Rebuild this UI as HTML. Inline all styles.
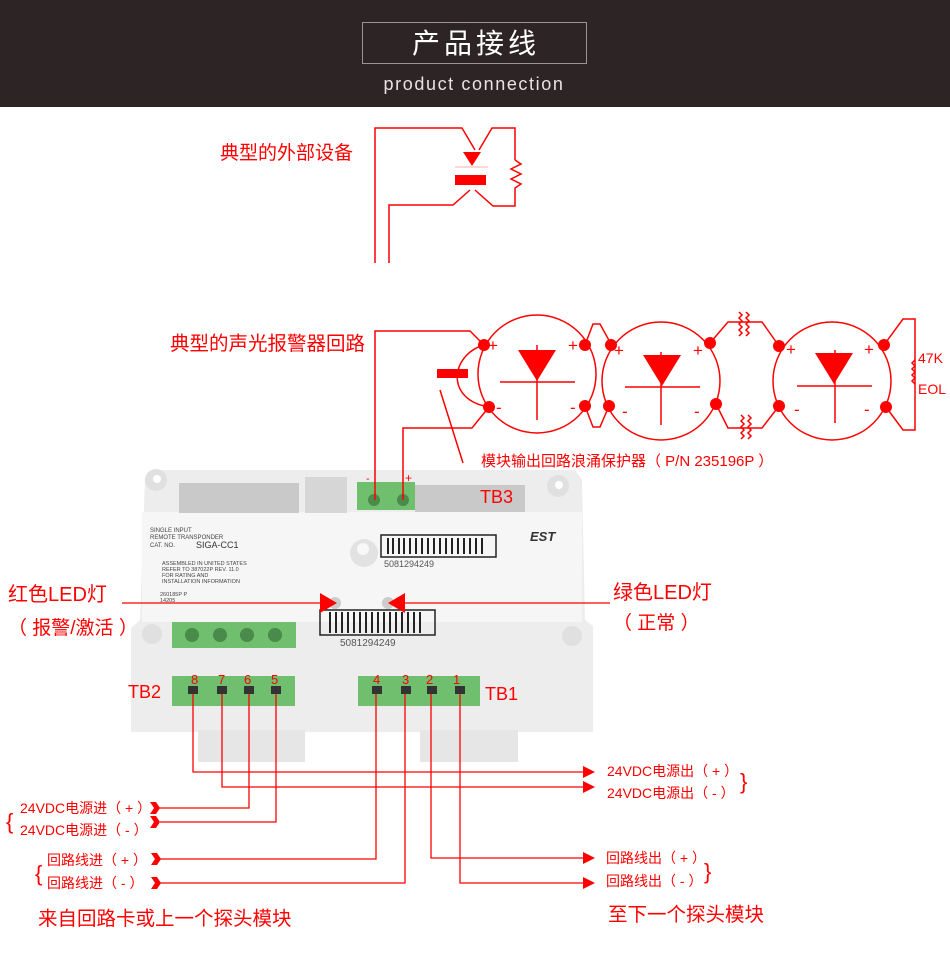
<!DOCTYPE html>
<html><head><meta charset="utf-8"><style>
html,body{margin:0;padding:0;background:#fff;}
svg{display:block;}
text{font-family:"Liberation Sans","Noto Sans CJK SC",sans-serif;}
</style></head><body>
<svg width="950" height="957" viewBox="0 0 950 957" xmlns="http://www.w3.org/2000/svg">
<rect x="0" y="0" width="950" height="107" fill="#2d2425"/>
<rect x="362.5" y="22.5" width="224" height="41" fill="none" stroke="#9a9494" stroke-width="1"/>
<text x="476" y="53" fill="#fff" font-size="28" text-anchor="middle" letter-spacing="4">产品接线</text>
<text x="474" y="90" fill="#e8e4e4" font-size="18" text-anchor="middle" letter-spacing="1.6">product connection</text>

<g fill="none" stroke="#f00" stroke-width="1.5">
<polyline points="375,263 375,128 462,128 475,150"/>
<polyline points="479,150 492,128 515,128 515,160"/>
<polyline points="515,160 521,164 511,169 521,174 511,179 521,184 515,188 515,206 493,206 475,190"/>
<polyline points="389,263 389,205 453,205 470,190"/>
</g>
<polygon points="463,152 481,152 472,166" fill="#f00"/>
<line x1="455" y1="167" x2="488" y2="167" stroke="#f8b0b0" stroke-width="1"/>
<rect x="455" y="175" width="31" height="10" fill="#f00"/>
<text x="220" y="159" fill="#f00" font-size="19">典型的外部设备</text>

<g>
<polygon points="145,478 152,470 575,470 582,480 585,620 593,626 593,732 131,732 131,628 140,620" fill="#ededed"/>
<rect x="198" y="730" width="107" height="32" fill="#e6e6e6"/>
<rect x="420" y="730" width="98" height="32" fill="#e6e6e6"/>
<rect x="142" y="512" width="440" height="110" fill="#f6f6f6"/>
<rect x="179" y="483" width="120" height="30" fill="#c9c9c9"/>
<rect x="305" y="477" width="42" height="36" fill="#d6d6d6"/>
<rect x="357" y="482" width="58" height="28" fill="#6fbf6f"/>
<rect x="415" y="485" width="110" height="27" fill="#c9c9c9"/>
<circle cx="156" cy="480" r="11" fill="#e0e0e0"/><circle cx="157" cy="479" r="4" fill="#fff"/>
<circle cx="558" cy="486" r="11" fill="#e0e0e0"/><circle cx="559" cy="485" r="4" fill="#fff"/>
<circle cx="152" cy="634" r="10" fill="#e0e0e0"/><circle cx="572" cy="636" r="10" fill="#e0e0e0"/>
<circle cx="374" cy="500" r="6" fill="#4a8a4a"/><circle cx="403" cy="500" r="6" fill="#4a8a4a"/>
<circle cx="364" cy="553" r="14" fill="#e2e2e2"/><circle cx="363" cy="549" r="6" fill="#f8f8f8"/>
<rect x="172" y="622" width="124" height="26" fill="#6fbf6f"/>
<circle cx="192" cy="635" r="7" fill="#4a8a4a"/><circle cx="220" cy="635" r="7" fill="#4a8a4a"/><circle cx="247" cy="635" r="7" fill="#4a8a4a"/><circle cx="275" cy="635" r="7" fill="#4a8a4a"/>
<rect x="172" y="676" width="123" height="30" fill="#6fbf6f"/>
<rect x="358" y="676" width="122" height="30" fill="#6fbf6f"/>
<g fill="#333">
<rect x="188" y="686" width="10" height="8"/><rect x="217" y="686" width="10" height="8"/><rect x="244" y="686" width="10" height="8"/><rect x="271" y="686" width="10" height="8"/>
<rect x="372" y="686" width="10" height="8"/><rect x="401" y="686" width="10" height="8"/><rect x="427" y="686" width="10" height="8"/><rect x="455" y="686" width="10" height="8"/>
</g>
<rect x="381" y="535" width="115" height="22" fill="none" stroke="#222" stroke-width="1.5"/>
<g stroke="#222" stroke-width="2"><path d="M388 538v16M393 538v16M399 538v16M404 538v16M410 538v16M416 538v16M422 538v16M428 538v16M434 538v16M440 538v16M446 538v16M452 538v16M458 538v16M464 538v16M470 538v16M476 538v16M482 538v16"/></g>
<rect x="320" y="610" width="115" height="25" fill="none" stroke="#222" stroke-width="1.5"/>
<g stroke="#222" stroke-width="2"><path d="M330 612v21M336 612v21M342 612v21M348 612v21M354 612v21M360 612v21M366 612v21M372 612v21M378 612v21M384 612v21M390 612v21M396 612v21M402 612v21M408 612v21M414 612v21M420 612v21"/></g>
<text x="384" y="567" fill="#555" font-size="9">5081294249</text>
<text x="340" y="646" fill="#555" font-size="10">5081294249</text>
<text x="150" y="532" fill="#444" font-size="6">SINGLE INPUT</text>
<text x="150" y="539" fill="#444" font-size="6">REMOTE TRANSPONDER</text>
<text x="150" y="547" fill="#444" font-size="6">CAT. NO.</text>
<text x="196" y="548" fill="#333" font-size="9">SIGA-CC1</text>
<text x="162" y="565" fill="#444" font-size="5.5">ASSEMBLED IN UNITED STATES</text>
<text x="162" y="571" fill="#444" font-size="5.5">REFER TO 387022P REV. 11.0</text>
<text x="162" y="577" fill="#444" font-size="5.5">FOR RATING AND</text>
<text x="162" y="583" fill="#444" font-size="5.5">INSTALLATION INFORMATION</text>
<text x="160" y="596" fill="#444" font-size="5.5">260185P    P</text>
<text x="160" y="602" fill="#444" font-size="5.5">14205</text>
<text x="530" y="541" fill="#333" font-size="13" font-weight="bold" font-style="italic">EST</text>
<circle cx="335" cy="603" r="6" fill="#ccc"/><circle cx="388" cy="603" r="6" fill="#ccc"/>
</g>

<g fill="none" stroke="#f00" stroke-width="1.5">
<polyline points="375,500 375,331 470,331 484,345"/>
<polyline points="403,500 403,428 472,428 489,407"/>
<path d="M484,345 C450,355 445,400 489,407"/>
<line x1="440" y1="390" x2="463" y2="463"/>
<circle cx="537" cy="374" r="59"/>
<circle cx="661" cy="381" r="59"/>
<circle cx="832" cy="381" r="59"/>
<line x1="500" y1="382" x2="575" y2="382"/><line x1="537" y1="345" x2="537" y2="420"/>
<line x1="625" y1="387" x2="700" y2="387"/><line x1="661" y1="352" x2="661" y2="425"/>
<line x1="797" y1="386" x2="872" y2="386"/><line x1="835" y1="350" x2="835" y2="423"/>
<polyline points="585,345 593,324 600,324 611,344"/>
<polyline points="585,406 593,427 600,427 609,406"/>
<polyline points="710,343 728,322 762,322 779,346"/>
<polyline points="716,404 728,428 762,428 779,406"/>
<polyline points="884,345 903,319 915,319 915,430 903,430 886,407"/>
</g>
<g fill="none" stroke="#f00" stroke-width="1.5">
<path d="M739,312 l3,3 -3,3 3,3 -3,3 3,3 -3,3 3,3 -3,3"/>
<path d="M746,312 l3,3 -3,3 3,3 -3,3 3,3 -3,3 3,3 -3,3"/>
<path d="M741,415 l3,3 -3,3 3,3 -3,3 3,3 -3,3 3,3 -3,3"/>
<path d="M748,415 l3,3 -3,3 3,3 -3,3 3,3 -3,3 3,3 -3,3"/>
<path d="M915,360 l-3,3 3,3 -3,3 3,3 -3,3 3,3 -3,3 3,3"/>
</g>
<rect x="437" y="369" width="31" height="9" fill="#f00"/>
<g fill="#f00">
<polygon points="518,350 556,350 537,381"/>
<polygon points="643,355 681,355 662,386"/>
<polygon points="815,353 853,353 834,384"/>
<circle cx="484" cy="345" r="6"/><circle cx="489" cy="407" r="6"/>
<circle cx="585" cy="345" r="6"/><circle cx="585" cy="406" r="6"/>
<circle cx="611" cy="345" r="6"/><circle cx="609" cy="406" r="6"/>
<circle cx="710" cy="343" r="6"/><circle cx="716" cy="404" r="6"/>
<circle cx="779" cy="346" r="6"/><circle cx="779" cy="406" r="6"/>
<circle cx="884" cy="345" r="6"/><circle cx="886" cy="407" r="6"/>
</g>
<g fill="#f00" font-size="17">
<text x="488" y="351">+</text><text x="568" y="351">+</text>
<text x="614" y="356">+</text><text x="693" y="356">+</text>
<text x="786" y="355">+</text><text x="864" y="355">+</text>
<text x="496" y="413">-</text><text x="570" y="413">-</text>
<text x="622" y="417">-</text><text x="694" y="417">-</text>
<text x="794" y="415">-</text><text x="864" y="415">-</text>
</g>
<text x="918" y="363" fill="#f00" font-size="14">47K</text>
<text x="918" y="394" fill="#f00" font-size="14">EOL</text>
<text x="170" y="350" fill="#f00" font-size="19.5">典型的声光报警器回路</text>
<text x="481" y="466" fill="#f00" font-size="15">模块输出回路浪涌保护器（ P/N 235196P ）</text>
<text x="366" y="482" fill="#f00" font-size="11">-</text><text x="405" y="482" fill="#f00" font-size="12">+</text>
<text x="480" y="503" fill="#f00" font-size="18">TB3</text>

<line x1="122" y1="603" x2="322" y2="603" stroke="#f00" stroke-width="1.2"/>
<line x1="400" y1="603" x2="610" y2="603" stroke="#f00" stroke-width="1.2"/>
<polygon points="320,593 320,613 337,603" fill="#f00"/>
<polygon points="405,593 405,613 388,603" fill="#f00"/>
<text x="8" y="601" fill="#f00" font-size="20">红色LED灯</text>
<text x="8" y="634" fill="#f00" font-size="19">（ 报警/激活 ）</text>
<text x="613" y="599" fill="#f00" font-size="20">绿色LED灯</text>
<text x="613" y="629" fill="#f00" font-size="19">（ 正常 ）</text>
<text x="128" y="698" fill="#f00" font-size="18">TB2</text>
<text x="485" y="700" fill="#f00" font-size="18">TB1</text>
<g fill="#f00" font-size="13">
<text x="191" y="684">8</text><text x="218" y="684">7</text><text x="244" y="684">6</text><text x="271" y="684">5</text>
<text x="373" y="684">4</text><text x="402" y="684">3</text><text x="426" y="684">2</text><text x="453" y="684">1</text>
</g>

<g fill="none" stroke="#f00" stroke-width="1.3">
<polyline points="193,694 193,772 585,772"/>
<polyline points="222,694 222,787 585,787"/>
<polyline points="249,694 249,808 157,808"/>
<polyline points="276,694 276,822 160,822"/>
<polyline points="376,694 376,859 157,859"/>
<polyline points="405,694 405,883 157,883"/>
<polyline points="431,694 431,858 585,858"/>
<polyline points="460,694 460,883 585,883"/>
</g>
<g fill="#f00">
<polygon points="583,766 595,772 583,778"/>
<polygon points="583,781 595,787 583,793"/>
<polygon points="583,852 595,858 583,864"/>
<polygon points="583,877 595,883 583,889"/>
<polygon points="150,802 156,802 160,808 156,814 150,814 154,808"/>
<polygon points="150,816 156,816 160,822 156,828 150,828 154,822"/>
<polygon points="151,853 157,853 161,859 157,865 151,865 155,859"/>
<polygon points="151,877 157,877 161,883 157,889 151,889 155,883"/>
</g>
<g fill="#f00" font-size="14">
<text x="607" y="776">24VDC电源出（ + ）</text>
<text x="607" y="798">24VDC电源出（  - ）</text>
<text x="20" y="813">24VDC电源进（ + ）</text>
<text x="20" y="835">24VDC电源进（  - ）</text>
<text x="47" y="865">回路线进（ + ）</text>
<text x="47" y="888">回路线进（  - ）</text>
<text x="606" y="863">回路线出（ + ）</text>
<text x="606" y="886">回路线出（  - ）</text>
</g>
<g fill="#f00" font-size="22">
<text x="740" y="789">}</text>
<text x="6" y="829">{</text>
<text x="35" y="881">{</text>
<text x="704" y="879">}</text>
</g>
<text x="38" y="925" fill="#f00" font-size="19.5">来自回路卡或上一个探头模块</text>
<text x="608" y="921" fill="#f00" font-size="19.5">至下一个探头模块</text>
</svg>
</body></html>
